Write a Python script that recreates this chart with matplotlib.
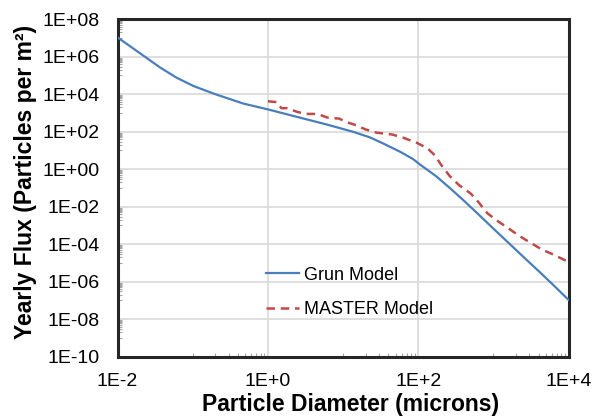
"""Yearly particle flux vs particle diameter: Grun model compared with MASTER model."""
import matplotlib
matplotlib.use("Agg")
import matplotlib.pyplot as plt
import matplotlib.ticker as mticker
import numpy as np

plt.rcParams['font.family'] = ['Liberation Sans', 'DejaVu Sans']

# Grun model (diameter in microns, flux in particles per m2 per year)
grun_diameter = [1.0e-2, 2.31e-2, 3.66e-2, 6.1e-2, 1.02e-1, 1.97e-1, 4.68e-1,
                 1.0e0, 2.19e0, 6.0e0, 1.35e1, 2.27e1, 3.39e1, 5.75e1, 8.51e1,
                 1.047e2, 1.738e2, 2.63e2, 3.98e2, 6.03e2, 1.0e3, 1.66e3,
                 2.754e3, 4.169e3, 6.166e3, 1.0e4]
grun_flux = [1.07e7, 1.0e6, 2.7e5, 7.6e4, 2.75e4, 1.02e4, 3.2e3,
             1.55e3, 6.9e2, 2.45e2, 1.0e2, 5.0e1, 2.4e1, 8.5e0, 3.5e0,
             1.82e0, 4.17e-1, 1.0e-1, 2.24e-2, 4.68e-3, 6.76e-4, 1.0e-4,
             1.48e-5, 3.16e-6, 7.08e-7, 1.07e-7]

# MASTER model
master_diameter = [1.0e0, 1.32e0, 1.51e0, 1.78e0, 2.5e0, 3.2e0, 4.5e0, 6.3e0,
                   8.9e0, 1.12e1, 1.41e1, 2.0e1, 2.8e1, 4.5e1, 6.3e1, 9.5e1,
                   1.32e2, 1.66e2, 2.0e2, 2.6e2, 3.5e2, 5.0e2, 6.3e2, 8.3e2,
                   1.12e3, 1.58e3, 2.2e3, 3.2e3, 4.5e3, 6.3e3, 1.0e4]
master_flux = [4.2e3, 3.8e3, 1.8e3, 1.8e3, 1.12e3, 8.9e2, 8.9e2, 5.6e2,
               5.0e2, 3.2e2, 2.4e2, 1.32e2, 8.9e1, 7.1e1, 4.8e1, 2.6e1,
               1.32e1, 5.6e0, 1.8e0, 4.5e-1, 1.4e-1, 5.0e-2, 1.8e-2, 4.5e-3,
               1.8e-3, 7.1e-4, 2.8e-4, 1.12e-4, 5.0e-5, 2.8e-5, 1.12e-5]

x_limits = (1e-2, 1e4)
y_limits = (1e-10, 1e8)


def build_figure():
    """Draw both models on log-log axes and save out.png."""
    fig = plt.figure(figsize=(5.92, 4.18), dpi=100)
    ax = fig.add_axes([0.1986, 0.1467, 0.7618, 0.8073])

    ax.plot(grun_diameter, grun_flux, color='#4a7ebb', linewidth=1.6,
            label="Grun Model", zorder=3)
    ax.plot(master_diameter, master_flux, color='#be4b48', linewidth=1.8,
            dashes=(3.4, 2.3), label="MASTER Model", zorder=3)

    ax.set_xscale('log')
    ax.set_yscale('log')
    ax.set_xlim(*x_limits)
    ax.set_ylim(*y_limits)

    # major ticks every two decades, minor ticks 10..90 % of each major step
    for axis in (ax.xaxis, ax.yaxis):
        axis.set_major_locator(mticker.LogLocator(base=100, numticks=20))
        axis.set_minor_locator(mticker.LogLocator(base=100, subs=np.arange(10, 100, 10),
                                                  numticks=20))
        axis.set_minor_formatter(mticker.NullFormatter())

    ax.xaxis.set_major_formatter(mticker.FuncFormatter(
        lambda v, pos: "1E%+d" % round(np.log10(v))))
    ax.yaxis.set_major_formatter(mticker.FuncFormatter(
        lambda v, pos: "1E%+03d" % round(np.log10(v))))

    ax.tick_params(which='major', direction='in', length=0, labelsize=14, colors='black')
    ax.tick_params(axis='y', which='major', pad=13)
    ax.tick_params(axis='x', which='major', pad=12)
    ax.tick_params(which='minor', direction='in', length=3, width=0.8, color='#a6a6a6')

    ax.grid(True, which='major', color='#d9d9d9', linewidth=1.2)
    ax.set_axisbelow(True)
    for spine in ax.spines.values():
        spine.set_linewidth(2.2)
        spine.set_color('#262626')

    ax.set_xlabel("Particle Diameter (microns)", fontsize=16.5, fontweight='bold')
    ax.set_ylabel("Yearly Flux (Particles per m²)", fontsize=16.5, fontweight='bold')
    ax.xaxis.set_label_coords(0.517, -0.107)
    ax.yaxis.set_label_coords(-0.178, 0.519)

    ax.legend(loc='upper left', bbox_to_anchor=(0.329, 0.267), frameon=False,
              fontsize=13, handlelength=1.85, handletextpad=0.25,
              labelspacing=0.98, borderpad=0, borderaxespad=0)

    fig.savefig('out.png', dpi=100)


if __name__ == "__main__":
    build_figure()
